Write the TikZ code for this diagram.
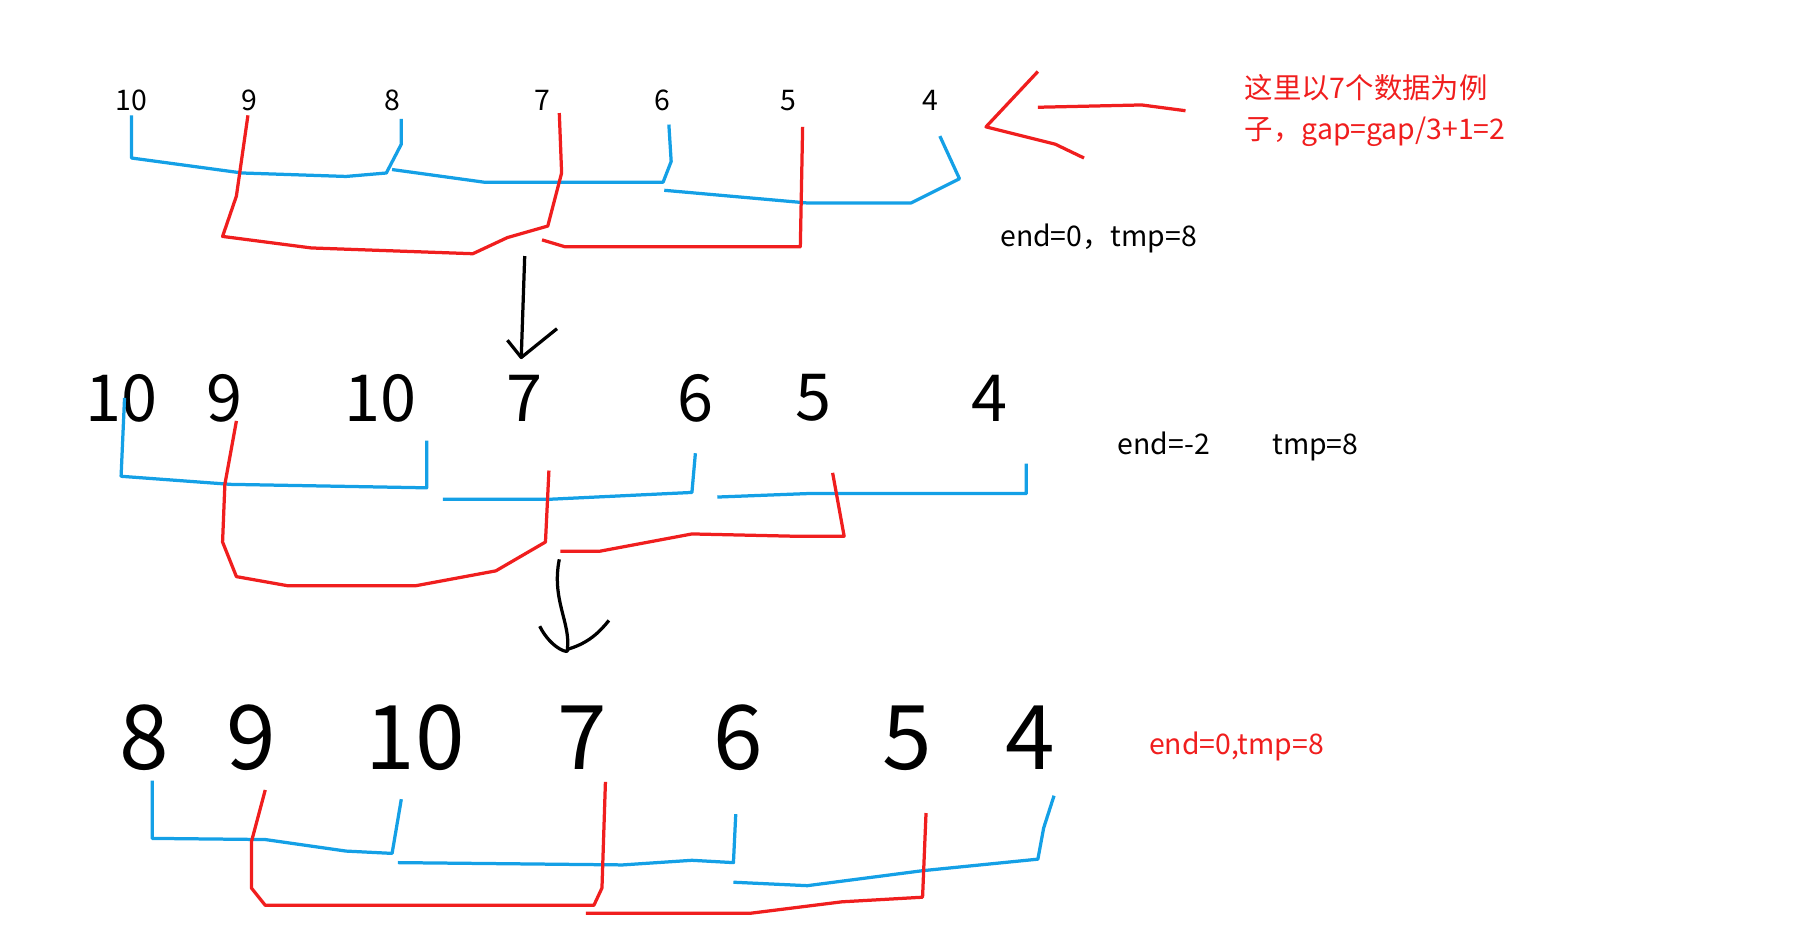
\documentclass[tikz,border=0pt]{standalone}
\usepackage{fontspec}
\setmainfont{Noto Sans CJK SC}
\usetikzlibrary{positioning, arrows}
\definecolor{hblue}{RGB}{20,160,230}
\definecolor{hred}{RGB}{240,30,30}
\begin{document}
\begin{tikzpicture}[
        x=0.01cm, y=-0.01cm,
        line width=0.8pt,
        line join=round,
        small/.style={font=\fontsize{7}{8}\selectfont, inner sep=0pt},
        big/.style={font=\fontsize{16}{18}\selectfont, inner sep=0pt},
        note/.style={font=\fontsize{7}{10}\selectfont, inner sep=0pt, anchor=west, align=left},
        bl/.style={draw=hblue},
        rd/.style={draw=hred}
    ]
    \useasboundingbox (0,0) rectangle (1560,814);

    % first row
    \foreach \v/\x in {10/114, 9/216, 8/340, 7/470, 6/574, 5/684, 4/807}
        \node[small] (a\x) at (\x,87) {\v};
    \draw[bl] (114,100) -- (114,137) -- (210,150) -- (300,153) -- (335,150) -- (348,125) -- (348,103);
    \draw[bl] (340,147) -- (420,158) -- (575,158) -- (582,140) -- (580,108);
    \draw[bl] (576,165) -- (700,176) -- (790,176) -- (832,155) -- (815,118);
    \draw[rd] (215,100) -- (205,170) -- (193,205) -- (270,215) -- (410,220) -- (440,206) -- (475,196) -- (487,150) -- (485,98);
    \draw[rd] (470,208) -- (490,214) -- (694,214) -- (696,110);

    \node[note, text=hred] (t1) at (1078,96) {这里以7个数据为例\\子，gap=gap/3+1=2};
    \draw[rd] (900,62) -- (855,110) -- (915,125) -- (940,137);
    \draw[rd] (900,93) -- (990,91) -- (1028,96);
    \node[note] (e1) at (866,207) {end=0，tmp=8};

    % second row
    \foreach \v/\x in {10/105, 9/195, 10/330, 7/455, 6/603, 5/705, 4/858}
        \node[big] (b\x) at (\x,345) {\v};
    \draw[bl] (108,345) -- (105,413) -- (200,420) -- (370,423) -- (370,382);
    \draw[bl] (384,433) -- (475,433) -- (600,427) -- (603,393);
    \draw[bl] (622,431) -- (700,428) -- (890,428) -- (890,402);
    \draw[rd] (205,365) -- (195,420) -- (193,470) -- (205,500) -- (250,508) -- (360,508) -- (430,495) -- (473,470) -- (476,408);
    \draw[rd] (486,478) -- (520,478) -- (600,463) -- (690,465) -- (732,465) -- (722,410);
    \node[note] (e2) at (968,387) {end=-2\hspace{2.2em}tmp=8};

    % third row
    \foreach \v/\x in {8/125, 9/218, 10/360, 7/505, 6/640, 5/787, 4/893}
        \node[big, font=\fontsize{22}{24}\selectfont] (c\x) at (\x,640) {\v};
    \draw[bl] (132,677) -- (132,727) -- (230,728) -- (300,738) -- (340,740) -- (348,693);
    \draw[bl] (345,748) -- (540,750) -- (600,746) -- (636,748) -- (638,706);
    \draw[bl] (636,765) -- (700,768) -- (800,755) -- (900,745) -- (905,718) -- (914,690);
    \draw[rd] (230,685) -- (218,730) -- (218,770) -- (230,785) -- (515,785) -- (522,770) -- (525,678);
    \draw[rd] (508,792) -- (650,792) -- (730,782) -- (800,778) -- (803,705);
    \node[note, text=hred] (e3) at (995,647) {end=0,tmp=8};

    % arrows
    \coordinate (p1) at (455,222);
    \coordinate (p2) at (452,310);
    \draw (p1) -- (p2);
    \draw (440,295) -- (452,310) -- (483,285);
    \coordinate (q1) at (485,485);
    \coordinate (q2) at (492,563);
    \draw (q1) .. controls (478,520) and (495,540) .. (q2);
    \draw (468,543) .. controls (478,563) and (495,568) .. (q2) .. controls (510,558) and (520,548) .. (528,538);
\end{tikzpicture}
\end{document}
